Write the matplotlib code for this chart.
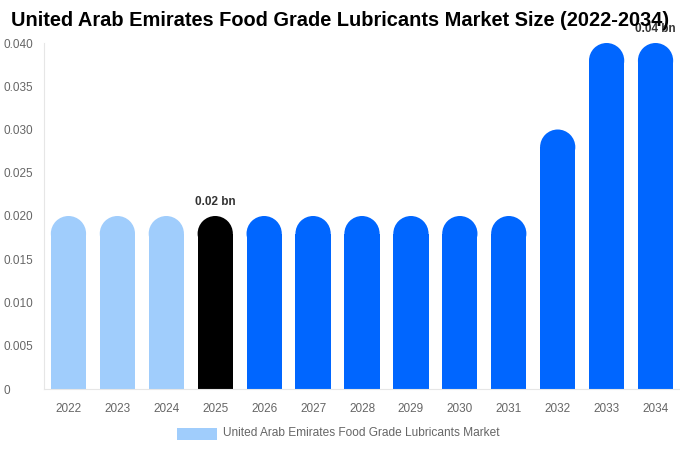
import matplotlib
matplotlib.use("Agg")
import matplotlib.pyplot as plt
from matplotlib.patches import Rectangle, Ellipse

plt.rcParams['font.family'] = ['Liberation Sans', 'DejaVu Sans']

years = ['2022', '2023', '2024', '2025', '2026', '2027', '2028',
         '2029', '2030', '2031', '2032', '2033', '2034']
values = [0.02, 0.02, 0.02, 0.02, 0.02, 0.02, 0.02,
          0.02, 0.02, 0.02, 0.03, 0.04, 0.04]
colors = ['#a0cdfc'] * 3 + ['#000000'] + ['#0066ff'] * 9
labels = {3: '0.02 bn', 12: '0.04 bn'}
yticks = [0, 0.005, 0.010, 0.015, 0.020, 0.025, 0.030, 0.035, 0.040]
ytick_labels = ['0', '0.005', '0.010', '0.015', '0.020', '0.025', '0.030', '0.035', '0.040']

fig = plt.figure(figsize=(6.8, 4.5), dpi=100)
ax = fig.add_axes([44/680, 1 - 389/450, 636/680, 346/450])
ax.set_xlim(-0.5, len(years) - 0.5)
ax.set_ylim(0, 0.04)

w = 0.72
# radius of the rounded top, converted to y data units
px_x = ax.transData.transform((1, 0))[0] - ax.transData.transform((0, 0))[0]
px_y = ax.transData.transform((0, 1))[1] - ax.transData.transform((0, 0))[1]
ry = (w / 2) * px_x / px_y

for i, (v, c) in enumerate(zip(values, colors)):
    ax.add_patch(Rectangle((i - w/2, 0), w, v - ry, color=c, lw=0))
    ax.add_patch(Ellipse((i, v - ry), w, 2 * ry, color=c, lw=0))
    if i in labels:
        ax.text(i, v + 0.0009, labels[i], ha='center', va='bottom',
                fontsize=8.5, fontweight='bold', color='#333333')

ax.set_xticks(range(len(years)))
ax.set_xticklabels(years)
ax.set_yticks(yticks)
ax.set_yticklabels(ytick_labels)
ax.tick_params(axis='both', length=0, labelsize=8.5, colors='#666666')
ax.tick_params(axis='x', pad=10)
ax.tick_params(axis='y', pad=0)
for lab in ax.get_yticklabels():
    lab.set_horizontalalignment('left')
    lab.set_x(-41/636)

for s in ['top', 'right']:
    ax.spines[s].set_visible(False)
ax.spines['left'].set_color('#e6e6e6')
ax.spines['bottom'].set_color('#e6e6e6')

fig.text(0.5, 1 - 21/450, 'United Arab Emirates Food Grade Lubricants Market Size (2022-2034)',
         ha='center', va='center', fontsize=14.4, fontweight='bold', color='#000000')

fig.patches.append(Rectangle((177/680, 1 - 440/450), 40/680, 12/450,
                             transform=fig.transFigure, color='#a0cdfc', lw=0))
fig.text(223/680, 1 - 433/450, 'United Arab Emirates Food Grade Lubricants Market',
         ha='left', va='center', fontsize=8.6, color='#666666')

fig.savefig('out.png', dpi=100)
